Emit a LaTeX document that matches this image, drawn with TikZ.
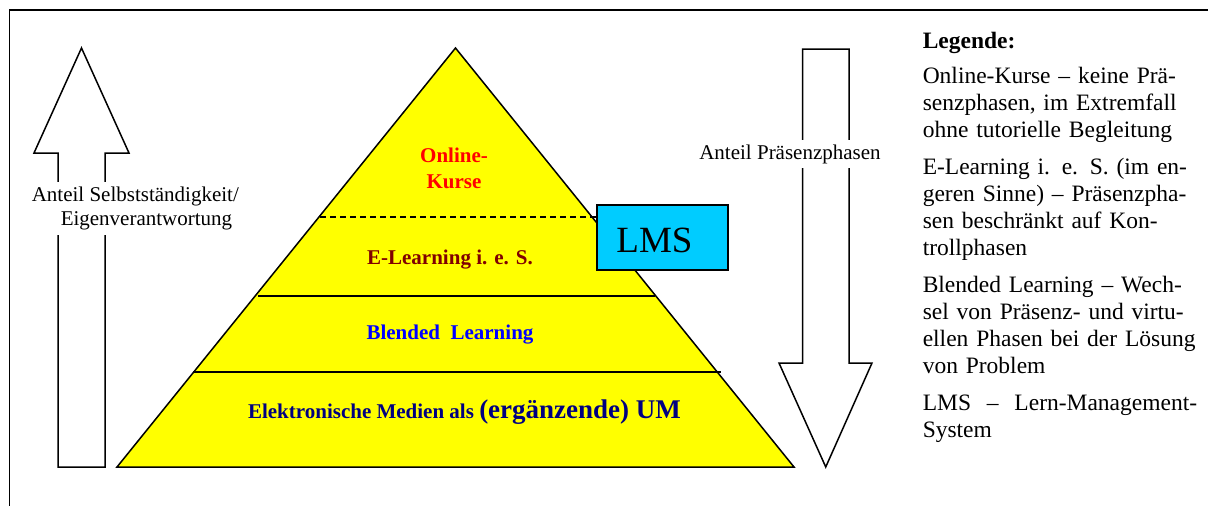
\documentclass[tikz,border=0pt]{standalone}
\usepackage{fontspec}
\setmainfont{Liberation Serif}
\definecolor{pyr}{RGB}{255,255,0}
\definecolor{lmscyan}{RGB}{0,204,255}
\definecolor{onlred}{RGB}{255,0,0}
\definecolor{elrred}{RGB}{128,0,0}
\definecolor{blblue}{RGB}{0,0,255}
\definecolor{navyblue}{RGB}{0,0,128}
\begin{document}
\begin{tikzpicture}[x=1pt,y=-1pt,line width=1.5pt,
  lbl/.style={font=\bfseries\fontsize{21}{26}\selectfont, inner sep=0pt},
  arrtxt/.style={fill=white, font=\fontsize{21}{24}\selectfont},
  bigarrow/.style={draw=black, line width=1.5pt, line join=miter}]
\useasboundingbox (0,0) rectangle (1208,506);
\fill[white] (0,0) rectangle (1208,506);
% frame
\coordinate (fr) at (1212,10);
\coordinate (fc) at (9.5,10);
\coordinate (fb) at (9.5,510);
\draw (fr) -- (fc) -- (fb);
% left arrow (up)
\draw[bigarrow] (58,467) -- (58,153) -- (34,153) -- (81.5,48) -- (129,153) -- (105,153) -- (105,467) -- cycle;
\node[arrtxt, align=left, anchor=west, inner xsep=0pt, inner ysep=5pt] (selbst) at (31,208.5)
  {Anteil Selbstständigkeit/\\\hspace*{29pt}Eigenverantwortung};
% right arrow (down)
\draw[bigarrow] (802.5,49) -- (849,49) -- (849,363) -- (872,363) -- (825.75,467) -- (779,363) -- (802.5,363) -- cycle;
\node[arrtxt, inner xsep=1pt, inner ysep=4.5pt] (praes) at (790,154) {Anteil Präsenzphasen};
% pyramid
\coordinate (apex) at (455.5,48);
\coordinate (bl) at (117,467);
\coordinate (br) at (794,467);
\draw[fill=pyr, line join=miter] (apex) -- (br) -- (bl) -- cycle;
\draw[dash pattern=on 6pt off 4pt] (320,217) -- (597,217);
\draw (258,296) -- (655,296);
\draw (193,372) -- (721,372);
% LMS box
\node[draw, fill=lmscyan, minimum width=131pt, minimum height=65pt, inner sep=0pt] (lms) at (662.5,237.5) {};
\node[font=\fontsize{37}{40}\selectfont, inner sep=0pt] (lmstxt) at (654.5,240) {LMS};
% pyramid labels
\node[lbl, text=onlred, align=center] (onl) at (454,168) {Online-\\Kurse};
\node[lbl, text=elrred] (elr) at (450,260) {E-Learning i. e. S.};
\node[lbl, text=blblue] (bld) at (450,335) {Blended\ \ Learning};
\node[lbl, text=navyblue, anchor=base] (elm) at (464.5,418)
  {Elektronische Medien als {\fontsize{27}{30}\selectfont (ergänzende) UM}};
% legend
\node[anchor=north west, inner sep=0pt, text width=285pt, align=left,
      font=\fontsize{23.5}{27}\selectfont] (leg) at (922,29.1)
  {\parindent=0pt\parskip=10pt
   \strut\textbf{Legende:}\par\vspace{-2pt}
   Online-Kurse – keine Prä-\\senzphasen, im Extremfall\\ohne tutorielle Begleitung\par
   E-Learning i. e. S. (im en-\\geren Sinne) – Präsenzpha-\\sen beschränkt auf Kon-\\trollphasen\par
   Blended Learning – Wech-\\sel von Präsenz- und virtu-\\ellen Phasen bei der Lösung\\von Problem\par
   LMS\hspace{8pt} –\hspace{8pt} Lern-Management-\\System\par};
\end{tikzpicture}
\end{document}
